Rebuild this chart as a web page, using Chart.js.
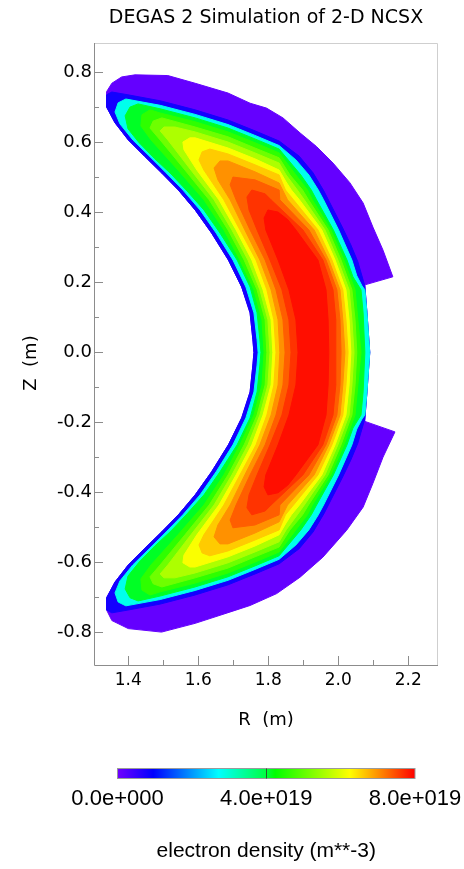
<!DOCTYPE html>
<html>
<head>
<meta charset="utf-8">
<title>DEGAS 2 Simulation of 2-D NCSX</title>
<script src="https://cdn.jsdelivr.net/npm/chart.js@4"></script>
<style>
  html,body{margin:0;padding:0;background:#fff}
  #wrap{width:464px;height:869px}
</style>
</head>
<body>
<div id="wrap"><canvas id="c" width="464" height="869"></canvas></div>
<script>
(function () {
  'use strict';

  // ---- axes (metres) ----
  var R_MIN = 1.302, R_MAX = 2.285;
  var Z_MIN = -0.893, Z_MAX = 0.884;
  var R_TICKS = [1.4, 1.6, 1.8, 2.0, 2.2];
  var R_MINOR = [1.5, 1.7, 1.9, 2.1];
  var Z_TICKS = [-0.8, -0.6, -0.4, -0.2, 0.0, 0.2, 0.4, 0.6, 0.8];
  var Z_MINOR = [-0.7, -0.5, -0.3, -0.1, 0.1, 0.3, 0.5, 0.7];

  // ---- colour bar (m**-3) ----
  var CB_MAX = 8e19;
  var CB_TICKS = [0, 4e19, 8e19];

  // ---- filled contour levels (1e19 m**-3), outermost first ----
  var LEVELS = [0.1, 0.8, 2.85, 4.1, 4.6, 5.1, 5.6, 6.2, 6.6, 7.0, 7.35, 7.65, 7.9];

  // outlines as [R, Z] in metres
  var C0 = [[1.338,0.745],[1.353,0.769],[1.381,0.787],[1.419,0.793],[1.513,0.791],[1.591,0.769],[1.685,0.741],[1.748,0.712],[1.795,0.698],[1.842,0.670],[1.891,0.627],[1.938,0.588],[1.985,0.541],[2.033,0.485],[2.071,0.427],[2.099,0.358],[2.128,0.292],[2.156,0.216],[2.076,0.193],[2.076,0.190],[2.082,0.113],[2.090,0.000],[2.082,-0.113],[2.076,-0.190],[2.076,-0.197],[2.162,-0.227],[2.128,-0.299],[2.099,-0.374],[2.071,-0.442],[2.024,-0.508],[1.956,-0.585],[1.891,-0.642],[1.824,-0.689],[1.748,-0.723],[1.705,-0.737],[1.591,-0.774],[1.495,-0.799],[1.400,-0.789],[1.353,-0.766],[1.338,-0.736],[1.338,-0.701],[1.362,-0.656],[1.400,-0.607],[1.448,-0.559],[1.495,-0.513],[1.543,-0.464],[1.591,-0.407],[1.638,-0.341],[1.686,-0.264],[1.724,-0.187],[1.748,-0.113],[1.756,-0.036],[1.759,0.000],[1.756,0.036],[1.748,0.113],[1.724,0.187],[1.686,0.264],[1.638,0.341],[1.591,0.407],[1.543,0.464],[1.495,0.513],[1.448,0.559],[1.400,0.607],[1.362,0.656],[1.338,0.701]];
  var C1 = [[1.759,0.000],[1.756,0.036],[1.748,0.113],[1.724,0.187],[1.686,0.264],[1.638,0.341],[1.591,0.407],[1.543,0.464],[1.495,0.513],[1.448,0.559],[1.400,0.607],[1.362,0.656],[1.338,0.701],[1.338,0.736],[1.353,0.744],[1.399,0.736],[1.491,0.719],[1.591,0.693],[1.685,0.664],[1.762,0.633],[1.831,0.604],[1.888,0.561],[1.928,0.513],[1.959,0.461],[1.985,0.410],[2.011,0.359],[2.036,0.307],[2.056,0.259],[2.071,0.207],[2.076,0.190],[2.082,0.113],[2.090,0.000],[2.082,-0.113],[2.076,-0.190],[2.071,-0.207],[2.056,-0.259],[2.036,-0.307],[2.011,-0.359],[1.985,-0.410],[1.959,-0.461],[1.928,-0.513],[1.888,-0.561],[1.831,-0.604],[1.762,-0.633],[1.685,-0.664],[1.591,-0.693],[1.491,-0.719],[1.399,-0.736],[1.353,-0.744],[1.338,-0.736],[1.338,-0.701],[1.362,-0.656],[1.400,-0.607],[1.448,-0.559],[1.495,-0.513],[1.543,-0.464],[1.591,-0.407],[1.638,-0.341],[1.686,-0.264],[1.724,-0.187],[1.748,-0.113],[1.756,-0.036]];
  var C2 = [[1.771,0.000],[1.768,0.036],[1.759,0.113],[1.736,0.187],[1.699,0.264],[1.651,0.341],[1.605,0.407],[1.556,0.464],[1.508,0.513],[1.462,0.559],[1.413,0.607],[1.376,0.653],[1.362,0.687],[1.371,0.713],[1.393,0.724],[1.491,0.706],[1.591,0.680],[1.685,0.651],[1.762,0.620],[1.831,0.591],[1.879,0.550],[1.916,0.507],[1.943,0.464],[1.958,0.436],[2.001,0.350],[2.039,0.264],[2.053,0.219],[2.068,0.190],[2.076,0.179],[2.082,0.113],[2.090,0.000],[2.082,-0.113],[2.076,-0.179],[2.068,-0.190],[2.053,-0.219],[2.039,-0.264],[2.001,-0.350],[1.958,-0.436],[1.943,-0.464],[1.916,-0.507],[1.879,-0.550],[1.831,-0.591],[1.762,-0.620],[1.685,-0.651],[1.591,-0.680],[1.491,-0.706],[1.393,-0.724],[1.371,-0.713],[1.362,-0.687],[1.376,-0.653],[1.413,-0.607],[1.462,-0.559],[1.508,-0.513],[1.556,-0.464],[1.605,-0.407],[1.651,-0.341],[1.699,-0.264],[1.736,-0.187],[1.759,-0.113],[1.768,-0.036]];
  var C3 = [[1.779,0.000],[1.776,0.036],[1.768,0.113],[1.748,0.187],[1.711,0.264],[1.662,0.341],[1.616,0.407],[1.568,0.461],[1.522,0.510],[1.476,0.553],[1.431,0.599],[1.399,0.639],[1.391,0.676],[1.405,0.701],[1.428,0.710],[1.491,0.696],[1.591,0.670],[1.685,0.641],[1.762,0.610],[1.831,0.581],[1.893,0.507],[1.923,0.464],[1.938,0.436],[1.986,0.350],[2.025,0.264],[2.042,0.216],[2.065,0.179],[2.071,0.113],[2.076,0.000],[2.071,-0.113],[2.065,-0.179],[2.042,-0.216],[2.025,-0.264],[1.986,-0.350],[1.938,-0.436],[1.923,-0.464],[1.893,-0.507],[1.831,-0.581],[1.762,-0.610],[1.685,-0.641],[1.591,-0.670],[1.491,-0.696],[1.428,-0.710],[1.405,-0.701],[1.391,-0.676],[1.399,-0.639],[1.431,-0.599],[1.476,-0.553],[1.522,-0.510],[1.568,-0.461],[1.616,-0.407],[1.662,-0.341],[1.711,-0.264],[1.748,-0.187],[1.768,-0.113],[1.776,-0.036]];
  var C4 = [[1.788,0.000],[1.782,0.093],[1.759,0.179],[1.719,0.264],[1.673,0.350],[1.616,0.436],[1.542,0.521],[1.465,0.607],[1.436,0.647],[1.439,0.679],[1.462,0.693],[1.491,0.684],[1.591,0.659],[1.685,0.630],[1.762,0.599],[1.831,0.570],[1.879,0.507],[1.912,0.464],[1.926,0.436],[1.979,0.350],[2.016,0.264],[2.048,0.179],[2.056,0.093],[2.065,0.000],[2.056,-0.093],[2.048,-0.179],[2.016,-0.264],[1.979,-0.350],[1.926,-0.436],[1.912,-0.464],[1.879,-0.507],[1.831,-0.570],[1.762,-0.599],[1.685,-0.630],[1.591,-0.659],[1.491,-0.684],[1.462,-0.693],[1.439,-0.679],[1.436,-0.647],[1.465,-0.607],[1.542,-0.521],[1.616,-0.436],[1.673,-0.350],[1.719,-0.264],[1.759,-0.179],[1.782,-0.093]];
  var C5 = [[1.796,0.000],[1.791,0.093],[1.768,0.179],[1.731,0.264],[1.685,0.350],[1.631,0.436],[1.562,0.521],[1.491,0.607],[1.462,0.641],[1.471,0.661],[1.496,0.670],[1.591,0.644],[1.685,0.616],[1.762,0.584],[1.831,0.556],[1.862,0.507],[1.898,0.464],[1.915,0.436],[1.971,0.350],[2.008,0.264],[2.039,0.179],[2.048,0.093],[2.053,0.000],[2.048,-0.093],[2.039,-0.179],[2.008,-0.264],[1.971,-0.350],[1.915,-0.436],[1.898,-0.464],[1.862,-0.507],[1.831,-0.556],[1.762,-0.584],[1.685,-0.616],[1.591,-0.644],[1.496,-0.670],[1.471,-0.661],[1.462,-0.641],[1.491,-0.607],[1.562,-0.521],[1.631,-0.436],[1.685,-0.350],[1.731,-0.264],[1.768,-0.179],[1.791,-0.093]];
  var C6 = [[1.805,0.000],[1.799,0.093],[1.776,0.179],[1.742,0.264],[1.696,0.350],[1.645,0.436],[1.579,0.521],[1.513,0.607],[1.491,0.633],[1.502,0.644],[1.533,0.644],[1.591,0.630],[1.685,0.601],[1.762,0.570],[1.831,0.541],[1.851,0.507],[1.883,0.464],[1.903,0.436],[1.962,0.350],[1.999,0.264],[2.031,0.179],[2.039,0.093],[2.045,0.000],[2.039,-0.093],[2.031,-0.179],[1.999,-0.264],[1.962,-0.350],[1.903,-0.436],[1.883,-0.464],[1.851,-0.507],[1.831,-0.541],[1.762,-0.570],[1.685,-0.601],[1.591,-0.630],[1.533,-0.644],[1.502,-0.644],[1.491,-0.633],[1.513,-0.607],[1.579,-0.521],[1.645,-0.436],[1.696,-0.350],[1.742,-0.264],[1.776,-0.179],[1.799,-0.093]];
  var C7 = [[1.813,0.000],[1.808,0.093],[1.785,0.179],[1.753,0.264],[1.708,0.350],[1.659,0.436],[1.596,0.521],[1.559,0.579],[1.556,0.601],[1.576,0.613],[1.591,0.613],[1.685,0.584],[1.762,0.553],[1.831,0.521],[1.851,0.487],[1.866,0.464],[1.889,0.436],[1.953,0.350],[1.991,0.264],[2.022,0.179],[2.031,0.093],[2.036,0.000],[2.031,-0.093],[2.022,-0.179],[1.991,-0.264],[1.953,-0.350],[1.889,-0.436],[1.866,-0.464],[1.851,-0.487],[1.831,-0.521],[1.762,-0.553],[1.685,-0.584],[1.591,-0.613],[1.576,-0.613],[1.556,-0.601],[1.559,-0.579],[1.596,-0.521],[1.659,-0.436],[1.708,-0.350],[1.753,-0.264],[1.785,-0.179],[1.808,-0.093]];
  var C8 = [[1.822,0.000],[1.816,0.093],[1.796,0.179],[1.765,0.264],[1.719,0.350],[1.673,0.436],[1.616,0.521],[1.602,0.550],[1.611,0.573],[1.633,0.581],[1.685,0.567],[1.762,0.536],[1.831,0.507],[1.849,0.464],[1.872,0.436],[1.942,0.350],[1.982,0.264],[2.013,0.179],[2.022,0.093],[2.028,0.000],[2.022,-0.093],[2.013,-0.179],[1.982,-0.264],[1.942,-0.350],[1.872,-0.436],[1.849,-0.464],[1.831,-0.507],[1.762,-0.536],[1.685,-0.567],[1.633,-0.581],[1.611,-0.573],[1.602,-0.550],[1.616,-0.521],[1.673,-0.436],[1.719,-0.350],[1.765,-0.264],[1.796,-0.179],[1.816,-0.093]];
  var C9 = [[1.833,0.000],[1.828,0.093],[1.808,0.179],[1.776,0.264],[1.733,0.350],[1.691,0.436],[1.656,0.493],[1.645,0.527],[1.662,0.547],[1.685,0.547],[1.762,0.516],[1.831,0.484],[1.855,0.436],[1.931,0.350],[1.973,0.264],[2.005,0.179],[2.013,0.093],[2.019,0.000],[2.013,-0.093],[2.005,-0.179],[1.973,-0.264],[1.931,-0.350],[1.855,-0.436],[1.831,-0.484],[1.762,-0.516],[1.685,-0.547],[1.662,-0.547],[1.645,-0.527],[1.656,-0.493],[1.691,-0.436],[1.733,-0.350],[1.776,-0.264],[1.808,-0.179],[1.828,-0.093]];
  var C10 = [[1.848,0.000],[1.842,0.093],[1.822,0.179],[1.791,0.264],[1.748,0.350],[1.708,0.436],[1.691,0.479],[1.699,0.501],[1.762,0.493],[1.831,0.464],[1.833,0.436],[1.916,0.350],[1.965,0.264],[1.996,0.179],[2.005,0.093],[2.008,0.000],[2.005,-0.093],[1.996,-0.179],[1.965,-0.264],[1.916,-0.350],[1.833,-0.436],[1.831,-0.464],[1.762,-0.493],[1.699,-0.501],[1.691,-0.479],[1.708,-0.436],[1.748,-0.350],[1.791,-0.264],[1.822,-0.179],[1.842,-0.093]];
  var C11 = [[1.865,0.000],[1.859,0.093],[1.839,0.179],[1.805,0.264],[1.768,0.350],[1.745,0.407],[1.739,0.444],[1.753,0.464],[1.791,0.453],[1.808,0.436],[1.899,0.350],[1.956,0.264],[1.985,0.179],[1.993,0.093],[1.993,0.000],[1.993,-0.093],[1.985,-0.179],[1.956,-0.264],[1.899,-0.350],[1.808,-0.436],[1.791,-0.453],[1.753,-0.464],[1.739,-0.444],[1.745,-0.407],[1.768,-0.350],[1.805,-0.264],[1.839,-0.179],[1.859,-0.093]];
  var C12 = [[1.885,0.000],[1.879,0.093],[1.859,0.179],[1.828,0.264],[1.793,0.350],[1.788,0.384],[1.799,0.407],[1.828,0.401],[1.856,0.379],[1.879,0.350],[1.942,0.264],[1.965,0.179],[1.971,0.093],[1.973,0.000],[1.971,-0.093],[1.965,-0.179],[1.942,-0.264],[1.879,-0.350],[1.856,-0.379],[1.828,-0.401],[1.799,-0.407],[1.788,-0.384],[1.793,-0.350],[1.828,-0.264],[1.859,-0.179],[1.879,-0.093]];
  var CONTOURS = [C0, C1, C2, C3, C4, C5, C6, C7, C8, C9, C10, C11, C12];

  // ---- style ----
  var FONT_AX = '"DejaVu Sans", sans-serif';
  var FONT_CB = '"Liberation Sans", Arial, sans-serif';
  var TEXT = '#000';
  // rainbow colour table: position, r, g, b
  var CMAP = [
    [0.00, 112, 0, 255],
    [0.12, 0, 0, 255],
    [0.34, 0, 255, 255],
    [0.50, 0, 255, 64],
    [0.53, 0, 255, 0],
    [0.78, 255, 255, 0],
    [1.00, 255, 0, 0]
  ];
  var CB_BOX = { left: 117.5, right: 415, top: 768.5, height: 10 };

  function rgb(a) { return 'rgb(' + a[1] + ',' + a[2] + ',' + a[3] + ')'; }

  function cmap(t) {
    t = Math.max(0, Math.min(1, t));
    for (var i = 1; i < CMAP.length; i++) {
      if (t <= CMAP[i][0]) {
        var a = CMAP[i - 1], b = CMAP[i], f = (t - a[0]) / (b[0] - a[0]);
        return 'rgb(' + [1, 2, 3].map(function (j) {
          return Math.round(a[j] + (b[j] - a[j]) * f);
        }).join(',') + ')';
      }
    }
    return rgb(CMAP[CMAP.length - 1]);
  }

  function sci(v) {
    if (v === 0) return '0.0e+000';
    var e = Math.floor(Math.log10(v) + 1e-9);
    return (v / Math.pow(10, e)).toFixed(1) + 'e+' + String(e).padStart(3, '0');
  }

  var datasets = CONTOURS.map(function (pts, k) {
    return {
      label: LEVELS[k] + 'e19',
      data: pts.map(function (p) { return { x: p[0], y: p[1] }; }),
      backgroundColor: cmap(LEVELS[k] * 1e19 / CB_MAX),
      pointRadius: 0,
      showLine: false,
      order: CONTOURS.length - k
    };
  });

  // fill each outline as a closed polygon, using the points the scales placed
  var fillPlugin = {
    id: 'contourFill',
    beforeDatasetDraw: function (chart, args) {
      var pts = args.meta.data, ctx = chart.ctx;
      var col = chart.data.datasets[args.index].backgroundColor;
      if (!pts.length) return;
      ctx.save();
      ctx.beginPath();
      pts.forEach(function (p, i) { if (i) ctx.lineTo(p.x, p.y); else ctx.moveTo(p.x, p.y); });
      ctx.closePath();
      ctx.fillStyle = col;
      ctx.fill();
      ctx.lineWidth = 1;
      ctx.strokeStyle = col;
      ctx.stroke();
      ctx.restore();
    }
  };

  // frame, inward ticks, y title, colour bar
  var framePlugin = {
    id: 'frame',
    afterDraw: function (chart) {
      var ctx = chart.ctx, a = chart.chartArea;
      var xs = chart.scales.x, ys = chart.scales.y;
      ctx.save();
      ctx.lineWidth = 1;

      ctx.strokeStyle = '#cfcfcf';
      ctx.beginPath();
      ctx.moveTo(a.left, a.top + 0.5);
      ctx.lineTo(a.right - 0.5, a.top + 0.5);
      ctx.lineTo(a.right - 0.5, a.bottom);
      ctx.stroke();

      ctx.strokeStyle = '#8c8c8c';
      ctx.beginPath();
      ctx.moveTo(a.left + 0.5, a.top);
      ctx.lineTo(a.left + 0.5, a.bottom + 0.5);
      ctx.lineTo(a.right, a.bottom + 0.5);
      R_TICKS.concat(R_MINOR).forEach(function (v, i) {
        var x = Math.round(xs.getPixelForValue(v)) + 0.5;
        var len = i < R_TICKS.length ? 9 : 5;
        ctx.moveTo(x, a.bottom);
        ctx.lineTo(x, a.bottom - len);
      });
      Z_TICKS.concat(Z_MINOR).forEach(function (v, i) {
        var y = Math.round(ys.getPixelForValue(v)) + 0.5;
        var len = i < Z_TICKS.length ? 9 : 5;
        ctx.moveTo(a.left, y);
        ctx.lineTo(a.left + len, y);
      });
      ctx.stroke();

      // y axis title
      ctx.fillStyle = TEXT;
      ctx.font = '18px ' + FONT_AX;
      ctx.textAlign = 'center';
      ctx.textBaseline = 'middle';
      ctx.save();
      ctx.translate(31, 363);
      ctx.rotate(-Math.PI / 2);
      ctx.fillText('Z  (m)', 0, 0);
      ctx.restore();

      // colour bar
      var w = CB_BOX.right - CB_BOX.left;
      var g = ctx.createLinearGradient(CB_BOX.left, 0, CB_BOX.right, 0);
      CMAP.forEach(function (s) { g.addColorStop(s[0], rgb(s)); });
      ctx.fillStyle = g;
      ctx.fillRect(CB_BOX.left, CB_BOX.top, w, CB_BOX.height);
      ctx.strokeStyle = '#9a9a9a';
      ctx.strokeRect(CB_BOX.left, CB_BOX.top, w, CB_BOX.height);
      ctx.strokeStyle = '#2a5a2a';
      ctx.beginPath();
      CB_TICKS.forEach(function (v) {
        if (v <= 0 || v >= CB_MAX) return;
        var x = Math.round(CB_BOX.left + w * v / CB_MAX) + 0.5;
        ctx.moveTo(x, CB_BOX.top);
        ctx.lineTo(x, CB_BOX.top + CB_BOX.height);
      });
      ctx.stroke();

      ctx.fillStyle = TEXT;
      ctx.font = '22px ' + FONT_CB;
      CB_TICKS.forEach(function (v) {
        ctx.fillText(sci(v), CB_BOX.left + w * v / CB_MAX, 799);
      });
      ctx.font = '21px ' + FONT_CB;
      ctx.fillText('electron density (m**-3)', (CB_BOX.left + CB_BOX.right) / 2, 851);
      ctx.restore();
    }
  };

  new Chart(document.getElementById('c'), {
    type: 'scatter',
    data: { datasets: datasets },
    options: {
      responsive: false,
      animation: false,
      events: [],
      layout: { padding: { left: 0, right: 26, top: 0, bottom: 134 } },
      plugins: {
        legend: { display: false },
        tooltip: { enabled: false },
        title: {
          display: true,
          fullSize: false,
          text: 'DEGAS 2 Simulation of 2-D NCSX',
          color: TEXT,
          font: { family: FONT_AX, size: 19, weight: 'normal' },
          padding: { top: 7, bottom: 13.2 }
        }
      },
      scales: {
        x: {
          type: 'linear',
          min: R_MIN,
          max: R_MAX,
          grid: { display: false, drawTicks: false },
          border: { display: false },
          afterBuildTicks: function (s) { s.ticks = R_TICKS.map(function (v) { return { value: v }; }); },
          afterFit: function (s) { s.height = 70; },
          ticks: {
            autoSkip: false, maxRotation: 0, padding: 5, color: TEXT,
            font: { family: FONT_AX, size: 17 },
            callback: function (v) { return Number(v).toFixed(1); }
          },
          title: {
            display: true, text: 'R  (m)', color: TEXT,
            font: { family: FONT_AX, size: 18 },
            padding: { top: 0, bottom: 4 }
          }
        },
        y: {
          type: 'linear',
          min: Z_MIN,
          max: Z_MAX,
          grid: { display: false, drawTicks: false },
          border: { display: false },
          afterBuildTicks: function (s) { s.ticks = Z_TICKS.map(function (v) { return { value: v }; }); },
          afterFit: function (s) { s.width = 94; },
          ticks: {
            autoSkip: false, padding: 2, color: TEXT,
            font: { family: FONT_AX, size: 18 },
            callback: function (v) { return Number(v).toFixed(1); }
          }
        }
      }
    },
    plugins: [fillPlugin, framePlugin]
  });
})();
</script>
</body>
</html>
